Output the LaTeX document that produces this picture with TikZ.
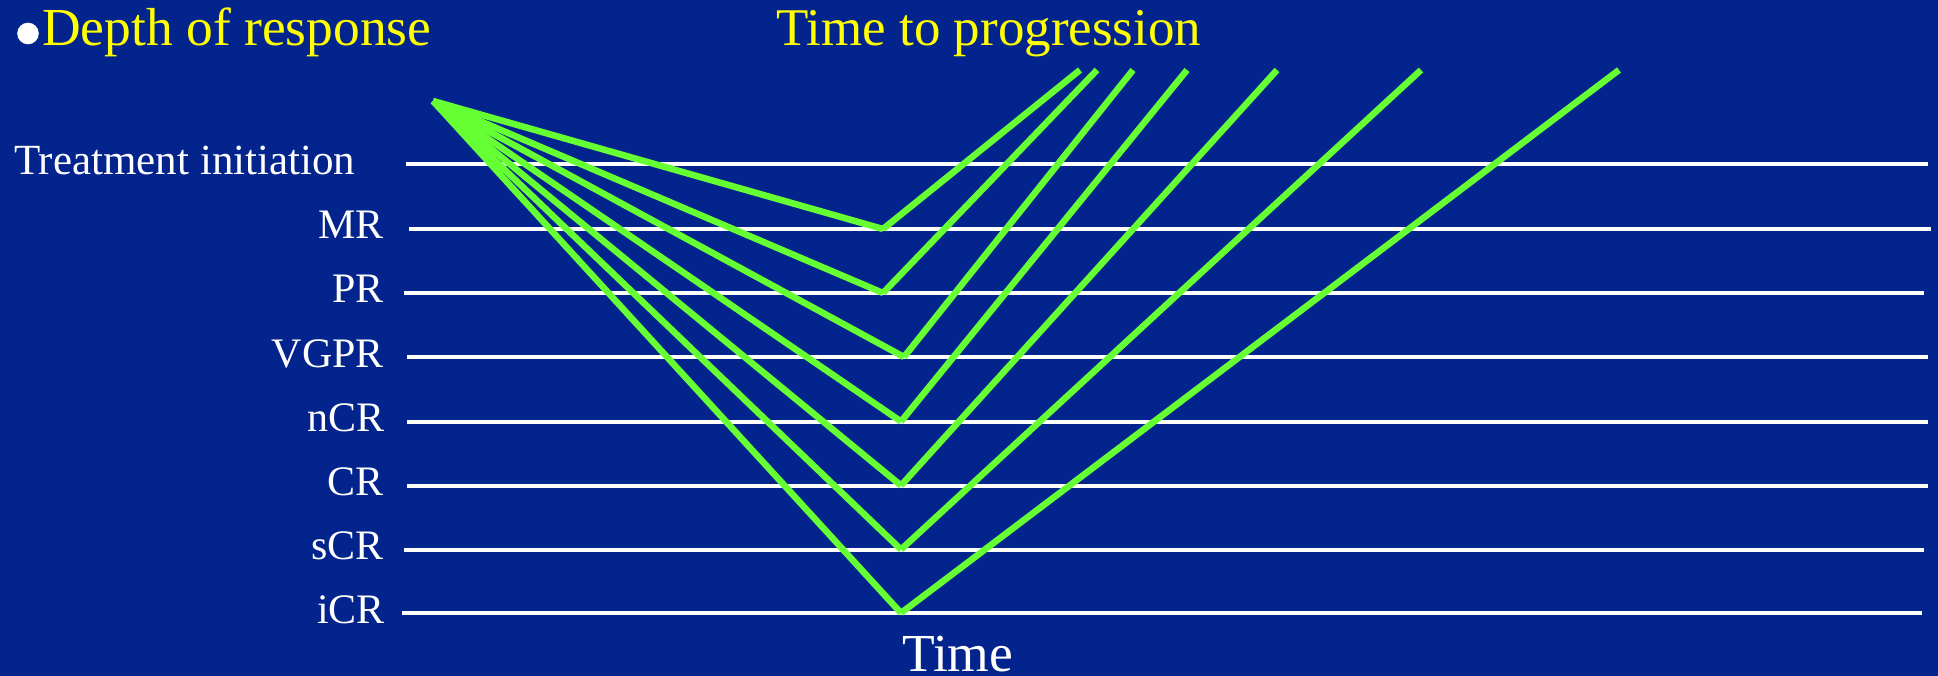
\documentclass[tikz,border=0pt]{standalone}
\usepackage{fontspec}
\setmainfont{Liberation Serif}
\definecolor{bgblue}{RGB}{2,36,140}
\definecolor{lgreen}{RGB}{102,255,51}
\definecolor{ttlyellow}{RGB}{255,255,0}
\begin{document}
\begin{tikzpicture}[x=1pt,y=-1pt,
  levelline/.style={draw=white,line width=4pt},
  resp/.style={draw=lgreen,line width=6.5pt,line cap=butt},
  lbl/.style={text=white,inner sep=0pt,anchor=base east,font=\fontsize{42}{42}\selectfont},
  ttl/.style={text=ttlyellow,inner sep=0pt,anchor=base west,font=\fontsize{53.5}{53.5}\selectfont}]
\useasboundingbox (0,0) rectangle (1938,676);
\fill[bgblue] (0,0) rectangle (1938,676);
% titles
\fill[white] (28,33.5) circle (10.8);
\node[ttl] (depth) at (42,46) {Depth of response};
\node[ttl,font=\fontsize{53}{53}\selectfont] (ttp) at (776,46) {Time to progression};
\node[ttl,text=white] (time) at (902,671) {Time};
% level lines
\coordinate (lTI) at (406,164);  \coordinate (rTI) at (1928,164);
\coordinate (lMR) at (409,229);  \coordinate (rMR) at (1931,229);
\coordinate (lPR) at (404,293);  \coordinate (rPR) at (1924,293);
\coordinate (lVG) at (407,357);  \coordinate (rVG) at (1928,357);
\coordinate (lnC) at (407,421.5);\coordinate (rnC) at (1928,421.5);
\coordinate (lCR) at (407,485.5);\coordinate (rCR) at (1928,485.5);
\coordinate (lsC) at (404,549.5);\coordinate (rsC) at (1924,549.5);
\coordinate (liC) at (402,613);  \coordinate (riC) at (1922,613);
\foreach \k in {TI,MR,PR,VG,nC,CR,sC,iC} \draw[levelline] (l\k) -- (r\k);
% labels
\node[lbl,anchor=base west,font=\fontsize{43}{43}\selectfont] (ti) at (14,175) {Treatment initiation};
\node[lbl] (mr) at (384,239) {MR};
\node[lbl] (pr) at (384,303) {PR};
\node[lbl] (vgpr) at (384,367) {VGPR};
\node[lbl] (ncr) at (385,431) {nCR};
\node[lbl] (cr) at (384,495) {CR};
\node[lbl] (scr) at (384,559) {sCR};
\node[lbl] (icr) at (385,623) {iCR};
% response curves
\coordinate (apex) at (433,101);
\coordinate (bMR) at (883,229);  \coordinate (tMR) at (1080,70);
\coordinate (bPR) at (883,293);  \coordinate (tPR) at (1097,70);
\coordinate (bVG) at (904,357);  \coordinate (tVG) at (1133,70);
\coordinate (bnC) at (901,421.5);\coordinate (tnC) at (1187,70);
\coordinate (bCR) at (901,485.5);\coordinate (tCR) at (1277,70);
\coordinate (bsC) at (901,549.5);\coordinate (tsC) at (1421,70);
\coordinate (biC) at (901,613);  \coordinate (tiC) at (1619,70);
\foreach \k in {MR,PR,VG,nC,CR,sC,iC} {
  \draw[resp] (apex) -- (b\k);
  \draw[resp] (b\k) -- (t\k);
}
\end{tikzpicture}
\end{document}
